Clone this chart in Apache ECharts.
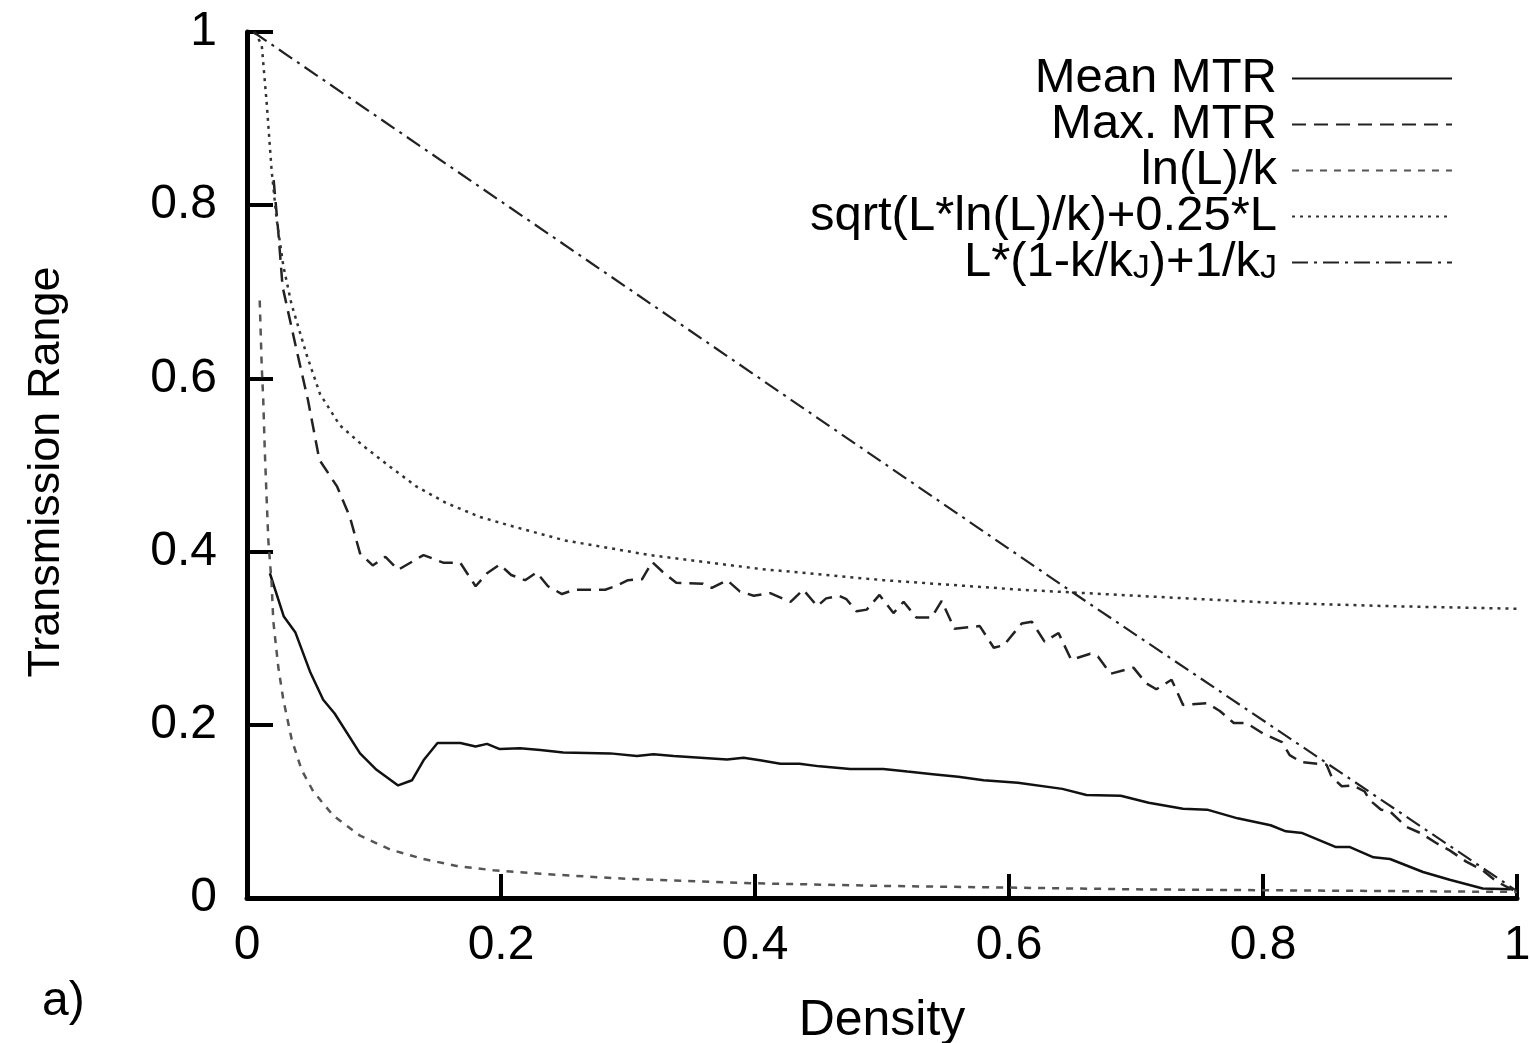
<!DOCTYPE html>
<html lang="en">
<head>
    <meta charset="UTF-8">
    <title>Transmission Range vs Density</title>
    <style>
        html, body { margin: 0; padding: 0; background: #fff; }
        #main { width: 1530px; height: 1043px; }
    </style>
</head>
<body>
    <div id="main"></div>
<script src="https://cdn.jsdelivr.net/npm/echarts@6/dist/echarts.min.js"></script>
<script>
    // values
    var meanX = [0.018, 0.029, 0.038, 0.050, 0.060, 0.069, 0.089, 0.102, 0.119, 0.130, 0.139, 0.150,
        0.168, 0.180, 0.189, 0.199, 0.215, 0.231, 0.249, 0.286, 0.307, 0.320, 0.336, 0.357, 0.378,
        0.391, 0.404, 0.420, 0.435, 0.451, 0.475, 0.501, 0.520, 0.540, 0.560, 0.580, 0.607, 0.642,
        0.661, 0.688, 0.710, 0.737, 0.756, 0.780, 0.806, 0.818, 0.831, 0.857, 0.868, 0.887, 0.900,
        0.926, 0.947, 0.973, 0.995];
    var meanY = [0.375, 0.325, 0.307, 0.260, 0.229, 0.213, 0.167, 0.148, 0.130, 0.136, 0.159, 0.179,
        0.179, 0.175, 0.178, 0.172, 0.173, 0.171, 0.168, 0.167, 0.164, 0.166, 0.164, 0.162, 0.160,
        0.162, 0.159, 0.155, 0.155, 0.152, 0.149, 0.149, 0.146, 0.143, 0.140, 0.136, 0.133, 0.126,
        0.119, 0.118, 0.110, 0.103, 0.102, 0.092, 0.084, 0.077, 0.075, 0.059, 0.059, 0.047, 0.045,
        0.030, 0.021, 0.011, 0.010];

    var maxX = [0.021, 0.025, 0.028, 0.039, 0.048, 0.057, 0.071, 0.081, 0.089, 0.099, 0.109, 0.119,
        0.139, 0.155, 0.168, 0.180, 0.189, 0.199, 0.208, 0.219, 0.228, 0.237, 0.248, 0.258, 0.282,
        0.290, 0.300, 0.311, 0.319, 0.327, 0.338, 0.359, 0.366, 0.378, 0.388, 0.399, 0.412, 0.428,
        0.438, 0.449, 0.456, 0.466, 0.472, 0.480, 0.488, 0.498, 0.509, 0.517, 0.527, 0.539, 0.547,
        0.557, 0.577, 0.588, 0.596, 0.610, 0.618, 0.628, 0.639, 0.649, 0.664, 0.670, 0.680, 0.698,
        0.708, 0.716, 0.728, 0.737, 0.756, 0.766, 0.777, 0.787, 0.800, 0.815, 0.821, 0.830, 0.850,
        0.854, 0.862, 0.871, 0.880, 0.884, 0.893, 0.900, 0.913, 0.924, 0.937, 0.947, 0.960, 0.973,
        0.984, 0.997];
    var maxY = [0.829, 0.763, 0.706, 0.633, 0.575, 0.506, 0.475, 0.440, 0.398, 0.384, 0.394, 0.379,
        0.396, 0.387, 0.387, 0.360, 0.375, 0.385, 0.373, 0.367, 0.376, 0.360, 0.351, 0.356, 0.356,
        0.360, 0.367, 0.368, 0.388, 0.377, 0.364, 0.363, 0.358, 0.367, 0.354, 0.349, 0.352, 0.342,
        0.356, 0.337, 0.346, 0.349, 0.345, 0.331, 0.333, 0.350, 0.329, 0.342, 0.324, 0.324, 0.343,
        0.311, 0.314, 0.289, 0.292, 0.317, 0.319, 0.296, 0.306, 0.275, 0.282, 0.279, 0.259, 0.266,
        0.248, 0.241, 0.252, 0.223, 0.225, 0.216, 0.202, 0.202, 0.190, 0.180, 0.165, 0.157, 0.154,
        0.140, 0.129, 0.130, 0.123, 0.113, 0.102, 0.100, 0.082, 0.075, 0.063, 0.055, 0.042, 0.032,
        0.019, 0.009];

    var lnX = [0.010, 0.0116, 0.0128, 0.014, 0.0155, 0.0168, 0.0194, 0.0207, 0.0246, 0.0286, 0.0352,
        0.043, 0.0522, 0.068, 0.089, 0.1126, 0.139, 0.165, 0.194, 0.231, 0.300, 0.400, 0.500, 0.600,
        0.700, 0.800, 0.900, 1.000];
    var lnY = [0.690, 0.614, 0.575, 0.517, 0.460, 0.413, 0.363, 0.320, 0.267, 0.229, 0.183,
        0.148, 0.123, 0.095, 0.072, 0.056, 0.045, 0.037, 0.032, 0.028, 0.022, 0.017, 0.014, 0.012,
        0.010, 0.009, 0.008, 0.007];

    var sqrtX = [0.006, 0.0116, 0.0155, 0.0194, 0.0234, 0.0286, 0.035, 0.047, 0.0575, 0.073, 0.0916, 0.1126,
        0.1336, 0.157, 0.1835, 0.2096, 0.250, 0.317, 0.404, 0.501, 0.609, 0.700, 0.806, 0.900, 1.000];
    var sqrtY = [1.000, 0.985, 0.918, 0.840, 0.783, 0.730, 0.686, 0.627, 0.582, 0.546, 0.522, 0.498,
        0.475, 0.456, 0.440, 0.429, 0.413, 0.396, 0.380, 0.367, 0.356, 0.349, 0.341, 0.337, 0.334];

    var linX = [0.005, 0.648, 1.000];
    var linY = [1.000, 0.355, 0.008];

    var seriesNames = ['Mean MTR', 'Max. MTR', 'ln(L)/k', 'sqrt(L*ln(L)/k)+0.25*L', 'L*(1-k/kJ)+1/kJ'];

    function pairs(xs, ys) {
        var out = [];
        for (var i = 0; i < xs.length; i++) out.push([xs[i], ys[i]]);
        return out;
    }

    var font = 'Liberation Sans, Arial, sans-serif';
    var myChart = echarts.init(document.getElementById('main'));

    function lineSeries(name, data, color, type, width) {
        return {
            name: name,
            type: 'line',
            data: data,
            showSymbol: false,
            symbol: 'none',
            animation: false,
            lineStyle: { color: color, width: width, type: type },
            itemStyle: { color: color }
        };
    }

    var option = {
        backgroundColor: '#fff',
        animation: false,
        grid: { left: 247, right: 13, top: 32, bottom: 145, containLabel: false, outerBoundsMode: 'none' },
        legend: {
            right: 72,
            top: 49,
            orient: 'vertical',
            align: 'right',
            itemWidth: 160,
            itemHeight: 20,
            itemGap: -3,
            data: seriesNames,
            itemStyle: { opacity: 0, borderWidth: 0 },
            textStyle: {
                fontFamily: font,
                fontSize: 49,
                lineHeight: 47,
                color: '#000',
                width: 560,
                align: 'right',
                padding: [0, 10, 0, 0],
                rich: {
                    a: { fontFamily: font, fontSize: 49, lineHeight: 47, color: '#000' },
                    s: { fontFamily: font, fontSize: 34, color: '#000', verticalAlign: 'bottom', padding: [22, 0, 0, 0] }
                }
            },
            formatter: function (name) {
                if (name === 'L*(1-k/kJ)+1/kJ') {
                    return '{a|L*(1-k/k}{s|J}{a|)+1/k}{s|J}';
                }
                return name;
            }
        },
        xAxis: {
            type: 'value',
            min: 0,
            max: 1,
            interval: 0.2,
            name: 'Density',
            nameLocation: 'middle',
            nameGap: 98,
            nameTextStyle: { fontFamily: font, fontSize: 50, color: '#000' },
            axisLine: { lineStyle: { color: '#000', width: 5 } },
            axisTick: { inside: true, length: 24, lineStyle: { color: '#000', width: 4 } },
            axisLabel: { fontFamily: font, fontSize: 48, color: '#000', margin: 24 },
            splitLine: { show: false }
        },
        yAxis: {
            type: 'value',
            min: 0,
            max: 1,
            interval: 0.2,
            name: 'Transmission Range',
            nameLocation: 'middle',
            nameGap: 178,
            nameTextStyle: { fontFamily: font, fontSize: 45, color: '#000', padding: [0, 14, 0, 0] },
            axisLine: { show: true, lineStyle: { color: '#000', width: 5 } },
            axisTick: { show: true, inside: true, length: 26, lineStyle: { color: '#000', width: 4 } },
            axisLabel: { fontFamily: font, fontSize: 48, color: '#000', margin: 30 },
            splitLine: { show: false }
        },
        graphic: [{
            type: 'text',
            left: 42,
            top: 978,
            style: { text: 'a)', font: '48px ' + font, fill: '#000' }
        }],
        series: [
            lineSeries(seriesNames[0], pairs(meanX, meanY), '#111', 'solid', 2.5),
            lineSeries(seriesNames[1], pairs(maxX, maxY), '#222', [14, 8], 2.5),
            lineSeries(seriesNames[2], pairs(lnX, lnY), '#555', [7, 7], 2.5),
            lineSeries(seriesNames[3], pairs(sqrtX, sqrtY), '#333', [3, 5], 2.5),
            lineSeries(seriesNames[4], pairs(linX, linY), '#222', [16, 6, 3, 6], 2.2)
        ]
    };

    option && myChart.setOption(option);
</script>
</body>
</html>
